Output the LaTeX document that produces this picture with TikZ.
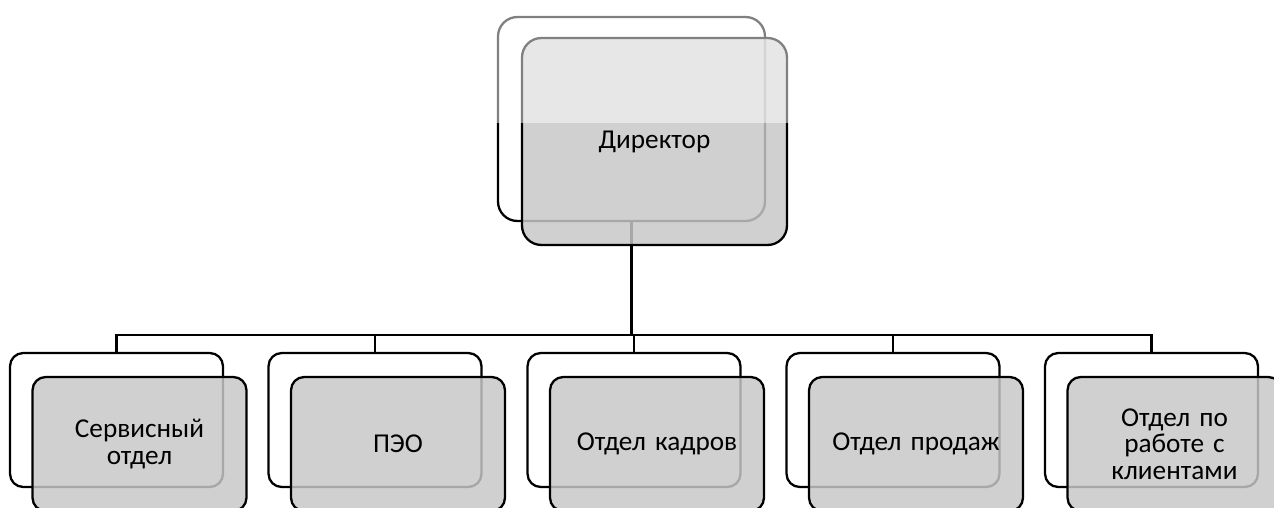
\documentclass[tikz,border=0pt]{standalone}
\usepackage{fontspec}
\setmainfont{Carlito}
\usetikzlibrary{positioning}

\tikzset{
  backbox/.style={draw=black,line width=1.3pt,rounded corners=7.5pt,fill=white,
    minimum width=4.26cm,minimum height=2.68cm,inner sep=0pt},
  frontbox/.style={draw=black,line width=1.3pt,rounded corners=7.5pt,
    fill=black!22,fill opacity=0.84,text opacity=1,
    minimum width=4.28cm,minimum height=2.68cm,inner sep=0pt,
    align=center,text width=4cm,font=\fontsize{15.5}{15.2}\selectfont},
  conn/.style={draw=black,line width=1.5pt},
}

\begin{document}
\begin{tikzpicture}[x=0.02cm,y=-0.02cm]

      \clip (0,0) rectangle (1274,507);

      % director
      \node[backbox,rounded corners=11pt,minimum width=5.34cm,minimum height=4.08cm] (dirb) at (631.5,119) {};

      % departments, back boxes
      \node[backbox] (d1b) at (116.5,420) {};
      \node[backbox] (d2b) at (375,420) {};
      \node[backbox] (d3b) at (634,420) {};
      \node[backbox] (d4b) at (893,420) {};
      \node[backbox] (d5b) at (1151.5,420) {};

      % connectors
      \coordinate (bus) at (631.5,335);
      \draw[conn] (dirb.south) -- (bus);
      \draw[conn] (d1b.north) |- (bus) -| (d5b.north);
      \draw[conn] (d2b.north) -- (d2b.north |- bus);
      \draw[conn] (d3b.north) -- (d3b.north |- bus);
      \draw[conn] (d4b.north) -- (d4b.north |- bus);

      % front boxes
      \node[frontbox,rounded corners=11pt,minimum width=5.3cm,minimum height=4.14cm,
        below right=0.45cm and 0.46cm of dirb.center,anchor=center] (dir) {Директор};
      \node[frontbox,below right=0.48cm and 0.46cm of d1b.center,anchor=center] (d1) {Сервисный\\отдел};
      \node[frontbox,below right=0.48cm and 0.46cm of d2b.center,anchor=center] (d2) {ПЭО};
      \node[frontbox,below right=0.48cm and 0.46cm of d3b.center,anchor=center] (d3) {Отдел кадров};
      \node[frontbox,below right=0.48cm and 0.46cm of d4b.center,anchor=center] (d4) {Отдел продаж};
      \node[frontbox,below right=0.48cm and 0.46cm of d5b.center,anchor=center] (d5) {Отдел по\\работе с\\клиентами};

      % gloss on the upper half of the director
      \fill[white,opacity=0.5] (494,8) rectangle (792,123);

\end{tikzpicture}
\end{document}
